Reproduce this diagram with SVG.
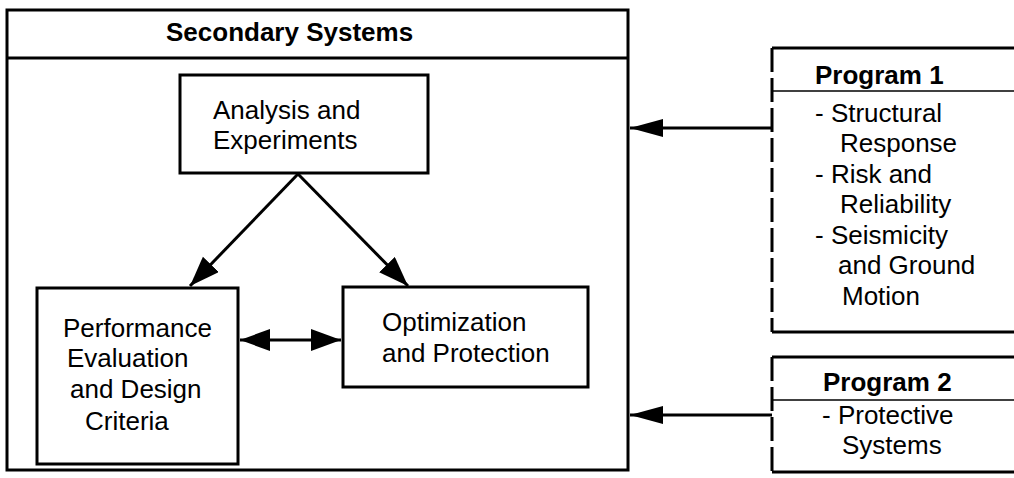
<svg xmlns="http://www.w3.org/2000/svg" width="1014" height="478" viewBox="0 0 1014 478">
<style>
.t{font-family:"Liberation Sans",Arial,Helvetica,sans-serif;font-size:26px;fill:#000}
.b{font-weight:bold}
.box{fill:none;stroke:#000;stroke-width:3}
.ln{fill:none;stroke:#000;stroke-width:3}
.dash{fill:none;stroke:#000;stroke-width:3;stroke-dasharray:24 6}
.thin{fill:none;stroke:#000;stroke-width:1.6}
.con{fill:none;stroke:#000;stroke-width:3}
</style>
<defs>
<marker id="ah" markerUnits="userSpaceOnUse" markerWidth="32" markerHeight="24" refX="30" refY="11" orient="auto-start-reverse">
<path d="M0,0 L30,11 L0,22 z" fill="#000"/>
</marker>
<marker id="ahh" markerUnits="userSpaceOnUse" markerWidth="36" markerHeight="20" refX="33" refY="9" orient="auto">
<path d="M0,0 L33,9 L0,18 z" fill="#000"/>
</marker>
</defs>
<rect width="1014" height="478" fill="#fff"/>
<g id="secondary-systems">
<rect class="box" x="7" y="10" width="621" height="460"/>
<line class="ln" x1="7" y1="58" x2="628" y2="58"/>
<text class="t b" x="166" y="41">Secondary Systems</text>
</g>
<g id="analysis">
<rect class="box" x="180" y="75" width="248" height="98"/>
<text class="t" x="213" y="119">Analysis and</text>
<text class="t" x="213" y="149">Experiments</text>
</g>
<g id="performance">
<rect class="box" x="37" y="288" width="201" height="176"/>
<text class="t" x="63" y="337">Performance</text>
<text class="t" x="67" y="367">Evaluation</text>
<text class="t" x="70" y="398">and Design</text>
<text class="t" x="85" y="430">Criteria</text>
</g>
<g id="optimization">
<rect class="box" x="343" y="287" width="245" height="100"/>
<text class="t" x="382" y="331">Optimization</text>
<text class="t" x="382" y="362">and Protection</text>
</g>
<g id="program1">
<line class="ln" x1="772" y1="48" x2="1014" y2="48"/>
<line class="dash" x1="772" y1="48" x2="772" y2="332"/>
<line class="ln" x1="772" y1="332" x2="1014" y2="332"/>
<line class="thin" x1="772" y1="91" x2="1014" y2="91"/>
<text class="t b" x="815" y="84">Program 1</text>
<text class="t" x="815" y="122">- Structural</text>
<text class="t" x="840" y="152">Response</text>
<text class="t" x="815" y="183">- Risk and</text>
<text class="t" x="840" y="213">Reliability</text>
<text class="t" x="815" y="244">- Seismicity</text>
<text class="t" x="838" y="274">and Ground</text>
<text class="t" x="842" y="305">Motion</text>
</g>
<g id="program2">
<line class="ln" x1="772" y1="357" x2="1014" y2="357"/>
<line class="dash" x1="772" y1="357" x2="772" y2="472"/>
<line class="ln" x1="772" y1="472" x2="1014" y2="472"/>
<line class="thin" x1="772" y1="400" x2="1014" y2="400"/>
<text class="t b" x="823" y="391">Program 2</text>
<text class="t" x="822" y="424">- Protective</text>
<text class="t" x="842" y="454">Systems</text>
</g>
<g id="connectors">
<line class="con" x1="298" y1="174" x2="190" y2="286" marker-end="url(#ah)"/>
<line class="con" x1="298" y1="174" x2="408" y2="286" marker-end="url(#ah)"/>
<line class="con" x1="240" y1="340" x2="341" y2="340" marker-start="url(#ah)" marker-end="url(#ah)"/>
<line class="con" x1="772" y1="128" x2="630" y2="128" marker-end="url(#ahh)"/>
<line class="con" x1="772" y1="415" x2="630" y2="415" marker-end="url(#ahh)"/>
</g>
</svg>
